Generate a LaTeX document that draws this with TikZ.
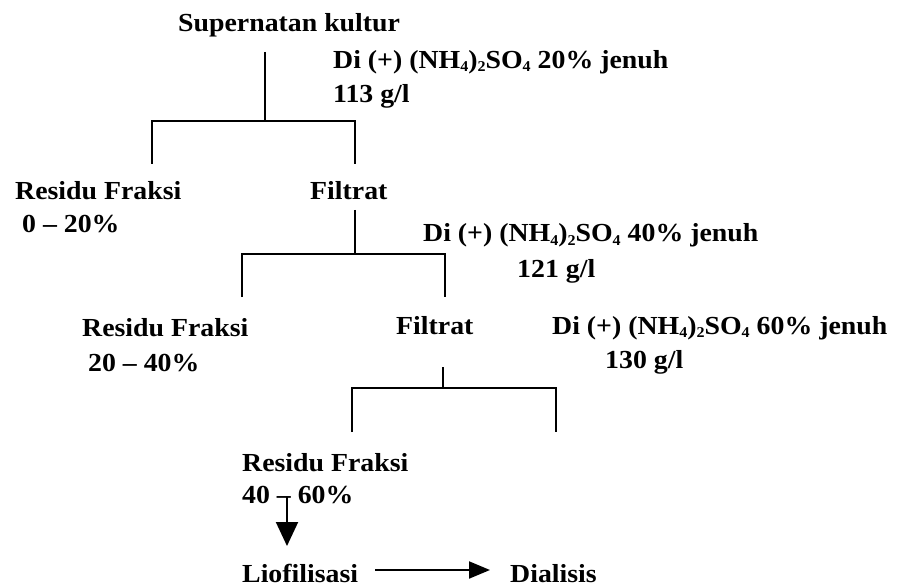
\documentclass[tikz,border=0pt]{standalone}
\usepackage{fontspec}
\setmainfont{Liberation Serif}[FakeStretch=1.07]
\usetikzlibrary{arrows.meta}
\newcommand\mysub[1]{{\fontsize{15}{15}\selectfont\raisebox{-3pt}{#1}}}
\begin{document}
\begin{tikzpicture}[x=1pt,y=-1pt,
  lbl/.style={inner sep=0pt, anchor=base west, font=\fontsize{26}{34}\selectfont\bfseries},
  ln/.style={line width=2pt},
  downarrow/.style={line width=2pt, -{Triangle[length=24pt,width=22pt]}},
  sidearrow/.style={line width=2pt, -{Triangle[length=21pt,width=17pt]}}]
\useasboundingbox (0,0) rectangle (905,588);
% texts
\node[lbl] (sup) at (178,32) {Supernatan kultur};
\node[lbl] (add1) at (333,69) {Di (+) (NH\mysub{4})\mysub{2}SO\mysub{4} 20\% jenuh};
\node[lbl] (g1) at (333,103) {113 g/l};
\node[lbl] (res1) at (15,200) {Residu Fraksi};
\node[lbl] (pct1) at (22,233) {0 -- 20\%};
\node[lbl] (fil1) at (310,200) {Filtrat};
\node[lbl] (add2) at (423,242) {Di (+) (NH\mysub{4})\mysub{2}SO\mysub{4} 40\% jenuh};
\node[lbl] (g2) at (517,277) {121 g/l};
\node[lbl] (res2) at (82,336) {Residu Fraksi};
\node[lbl] (pct2) at (88,371) {20 -- 40\%};
\node[lbl] (fil2) at (396,334) {Filtrat};
\node[lbl] (add3) at (552,334) {Di (+) (NH\mysub{4})\mysub{2}SO\mysub{4} 60\% jenuh};
\node[lbl] (g3) at (605,368) {130 g/l};
\node[lbl] (res3) at (242,471) {Residu Fraksi};
\node[lbl] (pct3) at (242,503) {40 -- 60\%};
\node[lbl] (lio) at (242,582) {Liofilisasi};
\node[lbl] (dia) at (510,582) {Dialisis};
% junction coordinates
\coordinate (t1) at (265,52);  \coordinate (j1) at (265,121);
\coordinate (l1a) at (152,121); \coordinate (l1b) at (152,164);
\coordinate (r1a) at (355,121); \coordinate (r1b) at (355,164);
\coordinate (t2) at (355,210); \coordinate (j2) at (355,254);
\coordinate (l2a) at (242,254); \coordinate (l2b) at (242,297);
\coordinate (r2a) at (445,254); \coordinate (r2b) at (445,297);
\coordinate (t3) at (443,367); \coordinate (j3) at (443,388);
\coordinate (l3a) at (352,388); \coordinate (l3b) at (352,432);
\coordinate (r3a) at (556,388); \coordinate (r3b) at (556,432);
\coordinate (a1s) at (287,497); \coordinate (a1e) at (287,546);
\coordinate (a2s) at (375,570); \coordinate (a2e) at (490,570);
% tree lines
\draw[ln] (t1) -- (j1);
\draw[ln] (l1b) -- (l1a) -- (r1a) -- (r1b);
\draw[ln] (t2) -- (j2);
\draw[ln] (l2b) -- (l2a) -- (r2a) -- (r2b);
\draw[ln] (t3) -- (j3);
\draw[ln] (l3b) -- (l3a) -- (r3a) -- (r3b);
% arrows
\draw[downarrow] (a1s) -- (a1e);
\draw[sidearrow] (a2s) -- (a2e);
\end{tikzpicture}
\end{document}
